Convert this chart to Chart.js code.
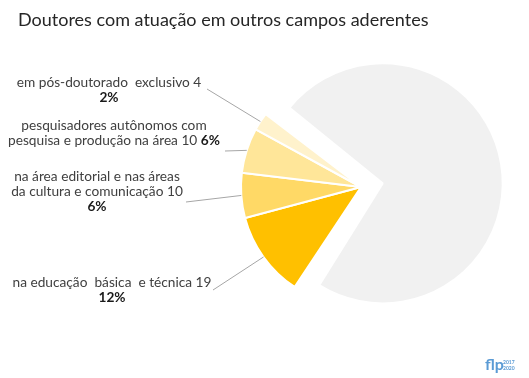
<!DOCTYPE html>
<html>
<head>
<meta charset="utf-8">
<script src="https://cdn.jsdelivr.net/npm/chart.js@4.4.0/dist/chart.umd.min.js"></script>
<style>
  html, body { margin: 0; padding: 0; background: #fff; }
  #wrap { width: 529px; height: 378px; position: relative; }
</style>
</head>
<body>
<div id="wrap"><canvas id="chart" width="529" height="378"></canvas></div>
<script>
// data
const chartTitle = "Doutores com atuação em outros campos aderentes";
const categories = [
    ["na educação  básica  e técnica"],
    ["na área editorial e nas áreas", "da cultura e comunicação"],
    ["pesquisadores autônomos com", "pesquisa e produção na área"],
    ["em pós-doutorado  exclusivo"],
    ["demais doutores"]
];
const values = [19, 10, 10, 4, 122];
const colors = ["#FFC000", "#FFD966", "#FFE699", "#FFF2CC", "#F1F1F1"];
const percentInline = [false, false, true, false];

// where each label block sits (text centre x, first line y, end of leader line)
const labelLayout = [
    { x: 112, y: 283, lx: 213, ly: 290 },
    { x: 97, y: 177, lx: 186, ly: 202 },
    { x: 114, y: 126, lx: 225, ly: 151 },
    { x: 109, y: 83, lx: 207, ly: 89 }
];

// the grey slice is pulled out of the pie
const EXPLODE = 88;

const total = values.reduce((a, b) => a + b, 0);
const FONT = "Lato, 'Open Sans', sans-serif";
const LABEL_SIZE = "13.7px ";

function drawMixedLine(ctx, segs, cx, y) {
    let w = 0;
    segs.forEach(s => {
        ctx.font = (s.b ? "bold " : "") + LABEL_SIZE + FONT;
        s.w = ctx.measureText(s.t).width;
        w += s.w;
    });
    let x = cx - w / 2;
    segs.forEach(s => {
        ctx.font = (s.b ? "bold " : "") + LABEL_SIZE + FONT;
        ctx.fillStyle = s.b ? "#1a1a1a" : "#404040";
        ctx.fillText(s.t, x, y);
        x += s.w;
    });
}

const labelPlugin = {
    id: "pieLabels",
    afterDatasetUpdate(chart) {
        // Chart.js grows an offset arc by offset/4; keep it the same size as the others
        const arcs = chart.getDatasetMeta(0).data;
        const grey = arcs[arcs.length - 1];
        grey.outerRadius = arcs[0].outerRadius - EXPLODE / 4;
    },
    afterDatasetsDraw(chart) {
        const ctx = chart.ctx;
        const arcs = chart.getDatasetMeta(0).data;
        ctx.save();

        // title
        ctx.font = "18px " + FONT;
        ctx.fillStyle = "#262626";
        ctx.textBaseline = "alphabetic";
        ctx.textAlign = "left";
        ctx.fillText(chartTitle, 18, 26);

        ctx.textBaseline = "middle";
        labelLayout.forEach((lay, i) => {
            const arc = arcs[i];
            const mid = (arc.startAngle + arc.endAngle) / 2;
            const sx = arc.x + Math.cos(mid) * arc.outerRadius;
            const sy = arc.y + Math.sin(mid) * arc.outerRadius;

            ctx.strokeStyle = "#a6a6a6";
            ctx.lineWidth = 1;
            ctx.beginPath();
            ctx.moveTo(lay.lx, lay.ly);
            ctx.lineTo(sx, sy);
            ctx.stroke();

            const pct = Math.round(values[i] / total * 100) + "%";
            const lines = categories[i].map(t => [{ t: t, b: false }]);
            const last = lines[lines.length - 1];
            last[0].t += " " + values[i];
            if (percentInline[i]) {
                last[0].t += " ";
                last.push({ t: pct, b: true });
            } else {
                lines.push([{ t: pct, b: true }]);
            }
            lines.forEach((segs, k) => drawMixedLine(ctx, segs, lay.x, lay.y + k * 15));
        });

        // logo
        ctx.fillStyle = "#5B9BD5";
        ctx.font = "bold 16px " + FONT;
        ctx.textBaseline = "alphabetic";
        ctx.fillText("flp", 485, 370);
        ctx.font = "bold 5px " + FONT;
        ctx.fillText("2017", 503, 364);
        ctx.fillText("2020", 503, 370);
        ctx.restore();
    }
};

new Chart(document.getElementById("chart"), {
    type: "pie",
    data: {
        labels: categories.map(c => c.join(" ")),
        datasets: [{
            data: values,
            backgroundColor: colors,
            borderColor: "#ffffff",
            borderWidth: 2,
            hoverBorderWidth: 2,
            offset: [0, 0, 0, 0, EXPLODE],
            hoverOffset: 0
        }]
    },
    options: {
        responsive: false,
        animation: false,
        events: [],
        rotation: 213.6,
        layout: { padding: { left: 196, right: 3, top: 22, bottom: 26 } },
        plugins: {
            legend: { display: false },
            title: { display: false },
            tooltip: { enabled: false }
        }
    },
    plugins: [labelPlugin]
});
</script>
</body>
</html>
